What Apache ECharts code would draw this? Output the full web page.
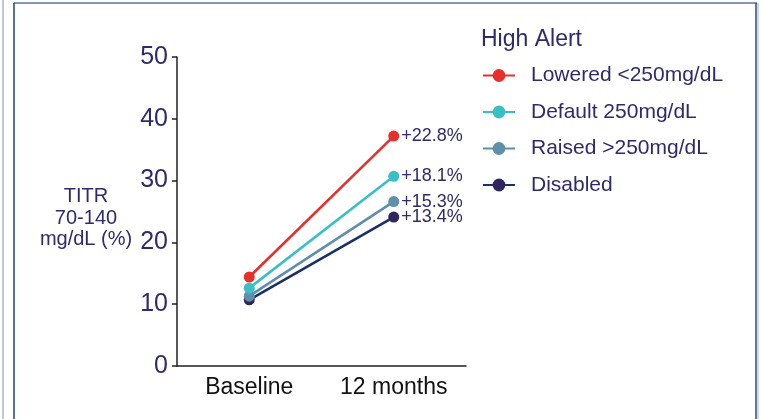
<!DOCTYPE html>
<html>
<head>
<meta charset="utf-8">
<script src="https://cdn.jsdelivr.net/npm/echarts@6/dist/echarts.min.js"></script>
<style>html,body{margin:0;padding:0;background:#fff}#c{width:761px;height:419px}</style>
</head>
<body>
<div id="c"></div>
<script>
const categories = ['Baseline', '12 months'];
const seriesNames = ['Lowered <250mg/dL', 'Default 250mg/dL', 'Raised >250mg/dL', 'Disabled'];
const lowered = [14.4, 37.2];
const defaultAlert = [12.6, 30.7];
const raised = [11.3, 26.6];
const disabled = [10.7, 24.1];
const changeLabels = ['+22.8%', '+18.1%', '+15.3%', '+13.4%'];
const yTicks = [0, 10, 20, 30, 40, 50];
const yTitle = 'TITR\n70-140\nmg/dL (%)';
const legendTitle = 'High Alert';

const lineColors = ['#e5302c', '#3bbfc6', '#5f8fab', '#1b3163'];
const dotColors = ['#e5302c', '#3bbfc6', '#5f8fab', '#30265f'];
const textColor = '#2f2a6b';
const FONT = '"Liberation Sans", Arial, sans-serif';

const values = [lowered, defaultAlert, raised, disabled];

const chart = echarts.init(document.getElementById('c'), null, {renderer: 'canvas'});

const series = values.map((vals, i) => ({
  name: seriesNames[i],
  type: 'line',
  data: vals.map((v, j) => j === vals.length - 1 ? {
    value: v,
    label: {
      show: true,
      position: 'right',
      distance: 2,
      formatter: changeLabels[i],
      color: textColor,
      fontSize: 18,
      fontFamily: FONT
    }
  } : v),
  symbol: 'circle',
  symbolSize: 11,
  lineStyle: {color: lineColors[i], width: 2.6},
  itemStyle: {color: dotColors[i]},
  z: 10 - i,
  silent: true,
  animation: false
}));

chart.setOption({
  animation: false,
  grid: {left: 177, right: 295, top: 57, bottom: 53, containLabel: false},
  title: {
    text: legendTitle,
    left: 481,
    top: 28,
    padding: 0,
    textStyle: {color: textColor, fontSize: 23, fontWeight: 'normal', fontFamily: FONT}
  },
  legend: {
    orient: 'vertical',
    left: 482,
    top: 65,
    padding: 0,
    itemWidth: 32,
    itemHeight: 16,
    itemGap: 15.5,
    data: seriesNames,
    textStyle: {color: textColor, fontSize: 21, lineHeight: 20, fontFamily: FONT, padding: [0, 0, 0, 11]},
    selectedMode: false
  },
  xAxis: {
    type: 'category',
    data: categories,
    boundaryGap: true,
    axisLine: {lineStyle: {color: '#222', width: 1.5}},
    axisTick: {alignWithLabel: true, length: 6, lineStyle: {color: '#222', width: 1.5}},
    axisLabel: {color: '#111', fontSize: 23, fontFamily: FONT, margin: 10}
  },
  yAxis: {
    type: 'value',
    min: yTicks[0],
    max: yTicks[yTicks.length - 1],
    interval: yTicks[1] - yTicks[0],
    splitLine: {show: false},
    axisLine: {show: true, lineStyle: {color: '#222', width: 1.5}},
    axisTick: {show: true, length: 5, lineStyle: {color: '#222', width: 1.5}},
    axisLabel: {color: textColor, fontSize: 25, fontFamily: FONT, margin: 9}
  },
  graphic: [
    {type: 'line', shape: {x1: 3, y1: 0, x2: 3, y2: 419}, style: {stroke: '#bccadc', lineWidth: 2}, silent: true},
    {type: 'line', shape: {x1: 14, y1: 3, x2: 757, y2: 3}, style: {stroke: '#8497b6', lineWidth: 2}, silent: true},
    {type: 'line', shape: {x1: 14, y1: 3, x2: 14, y2: 419}, style: {stroke: '#1f4380', lineWidth: 1.5}, silent: true},
    {type: 'line', shape: {x1: 756, y1: 3, x2: 756, y2: 419}, style: {stroke: '#2c4a7c', lineWidth: 1.5}, silent: true},
    {type: 'line', shape: {x1: 758, y1: 3, x2: 758, y2: 419}, style: {stroke: '#9fb0c8', lineWidth: 1}, silent: true},
    {
      type: 'text',
      x: 86,
      y: 186,
      style: {
        text: yTitle,
        x: 0, y: 0,
        align: 'center',
        verticalAlign: 'top',
        fill: textColor,
        font: '20px ' + FONT,
        lineHeight: 21.5
      },
      silent: true
    }
  ],
  series: series
});
</script>
</body>
</html>
